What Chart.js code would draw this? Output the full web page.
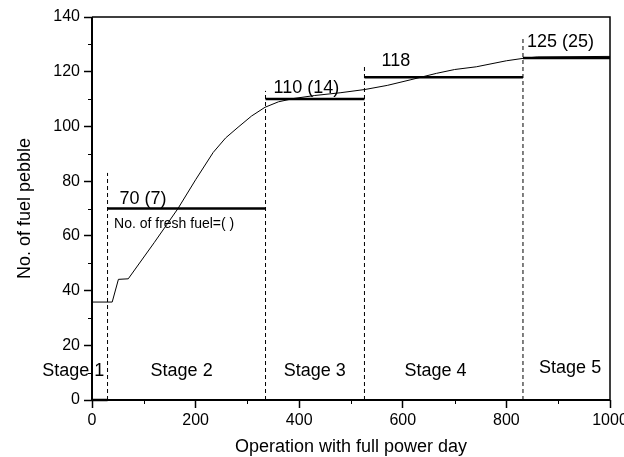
<!DOCTYPE html>
<html>
<head>
<meta charset="utf-8">
<script src="https://cdn.jsdelivr.net/npm/chart.js@4.4.0/dist/chart.umd.min.js"></script>
<style>
  body { margin: 0; background: #fff; }
  #wrap { width: 624px; height: 457px; }
</style>
</head>
<body>
<div id="wrap"><canvas id="pebble-chart"></canvas></div>
<script>
// fuel pebble count vs. operation days
const days = [0, 39, 51, 70, 120, 166, 200, 234, 258, 282, 308, 334, 360, 389, 430, 479, 527, 570, 614, 665, 700, 742, 800, 833, 860, 1000];
const pebbles = [35.8, 35.8, 44.1, 44.3, 57.5, 70, 80.5, 90.5, 95.8, 99.7, 103.8, 107, 109, 110.2, 111.3, 112.3, 113.5, 115, 117, 119.4, 120.8, 121.8, 124, 124.9, 125.4, 125.6];

// loading stages
const stageNames = ['Stage 1', 'Stage 2', 'Stage 3', 'Stage 4', 'Stage 5'];
const stageEdges = [0, 30, 335, 526, 832, 1000];
const stageLevels = [0, 70, 110, 118, 125];
const stageTags = ['', '70 (7)', '110 (14)', '118', '125 (25)'];
const boundaryTops = [83, 113, 122, 132];

const xTicks = [0, 200, 400, 600, 800, 1000];
const yTicks = [0, 20, 40, 60, 80, 100, 120, 140];

const FONT = "'Liberation Sans', Arial, sans-serif";

const datasets = [];

datasets.push({
  data: days.map((d, i) => ({ x: d, y: pebbles[i] })),
  borderColor: '#000',
  borderWidth: 1,
  pointRadius: 0,
  tension: 0
});

stageLevels.forEach((lvl, i) => {
  datasets.push({
    data: [{ x: stageEdges[i], y: lvl }, { x: stageEdges[i + 1], y: lvl }],
    borderColor: '#000',
    borderWidth: 2.5,
    pointRadius: 0,
    clip: false
  });
});

boundaryTops.forEach((top, i) => {
  datasets.push({
    data: [{ x: stageEdges[i + 1], y: 0 }, { x: stageEdges[i + 1], y: top }],
    borderColor: '#000',
    borderWidth: 1,
    borderDash: [4, 3],
    pointRadius: 0
  });
});

const decorations = {
  id: 'decorations',
  afterDatasetsDraw(chart) {
    const { ctx, chartArea: a, scales: { x, y } } = chart;
    ctx.save();
    ctx.strokeStyle = '#000';

    // frame
    ctx.lineWidth = 1.5;
    ctx.beginPath();
    ctx.moveTo(a.left, a.top);
    ctx.lineTo(a.right, a.top);
    ctx.lineTo(a.right, a.bottom);
    ctx.stroke();
    ctx.lineWidth = 2;
    ctx.beginPath();
    ctx.moveTo(a.left, a.top);
    ctx.lineTo(a.left, a.bottom);
    ctx.lineTo(a.right, a.bottom);
    ctx.stroke();

    // minor ticks
    ctx.lineWidth = 1;
    ctx.beginPath();
    for (let v = 100; v < 1000; v += 200) {
      const px = Math.round(x.getPixelForValue(v)) + 0.5;
      ctx.moveTo(px, a.bottom);
      ctx.lineTo(px, a.bottom + 4);
    }
    for (let v = 10; v < 140; v += 20) {
      const py = Math.round(y.getPixelForValue(v)) + 0.5;
      ctx.moveTo(a.left, py);
      ctx.lineTo(a.left - 4, py);
    }
    ctx.stroke();

    ctx.fillStyle = '#000';

    // level tags above each stage line
    const tagDx = [0, 12, 8, 17, 4];
    const tagDy = [0, 4.5, 6, 11, 11];
    ctx.font = '18px ' + FONT;
    ctx.textAlign = 'left';
    ctx.textBaseline = 'alphabetic';
    stageTags.forEach((t, i) => {
      if (!t) return;
      ctx.fillText(t, x.getPixelForValue(stageEdges[i]) + tagDx[i], y.getPixelForValue(stageLevels[i]) - tagDy[i]);
    });

    ctx.font = '14px ' + FONT;
    ctx.textBaseline = 'middle';
    ctx.fillText('No. of fresh fuel=( )', x.getPixelForValue(stageEdges[1]) + 6.5, y.getPixelForValue(stageLevels[1]) + 15.5);

    // stage names
    const nameX = [-36, 173, 430, 663, 923];
    const nameY = [10.5, 10.5, 10.5, 10.5, 11.7];
    ctx.font = '18px ' + FONT;
    ctx.textAlign = 'center';
    stageNames.forEach((n, i) => {
      ctx.fillText(n, x.getPixelForValue(nameX[i]), y.getPixelForValue(nameY[i]));
    });

    ctx.restore();
  }
};

new Chart(document.getElementById('pebble-chart'), {
  type: 'line',
  data: { datasets },
  options: {
    responsive: true,
    maintainAspectRatio: false,
    animation: false,
    layout: { padding: { top: 17, right: 14, left: 0, bottom: 0 } },
    plugins: { legend: { display: false }, tooltip: { enabled: false } },
    scales: {
      x: {
        type: 'linear',
        min: 0,
        max: 1000,
        afterBuildTicks: s => { s.ticks = xTicks.map(v => ({ value: v })); },
        afterFit: s => { s.height = 57; s.paddingLeft = 0; s.paddingRight = 0; },
        grid: { drawOnChartArea: false, tickLength: 8, tickColor: '#000', tickWidth: 1.5 },
        border: { display: false },
        ticks: { color: '#000', font: { family: FONT, size: 16 }, padding: 3, maxRotation: 0, callback: v => String(v) },
        title: { display: true, text: 'Operation with full power day', color: '#000', font: { family: FONT, size: 18 }, padding: { top: 0, bottom: -1 } }
      },
      y: {
        min: 0,
        max: 140,
        afterBuildTicks: s => { s.ticks = yTicks.map(v => ({ value: v })); },
        afterFit: s => { s.width = 92; },
        grid: { drawOnChartArea: false, tickLength: 8, tickColor: '#000', tickWidth: 1.5 },
        border: { display: false },
        ticks: { color: '#000', font: { family: FONT, size: 16 }, padding: 4, callback: v => String(v) },
        title: { display: true, text: 'No. of fuel pebble', color: '#000', font: { family: FONT, size: 18 }, padding: { top: 14, bottom: 0 } }
      }
    }
  },
  plugins: [decorations]
});
</script>
</body>
</html>
